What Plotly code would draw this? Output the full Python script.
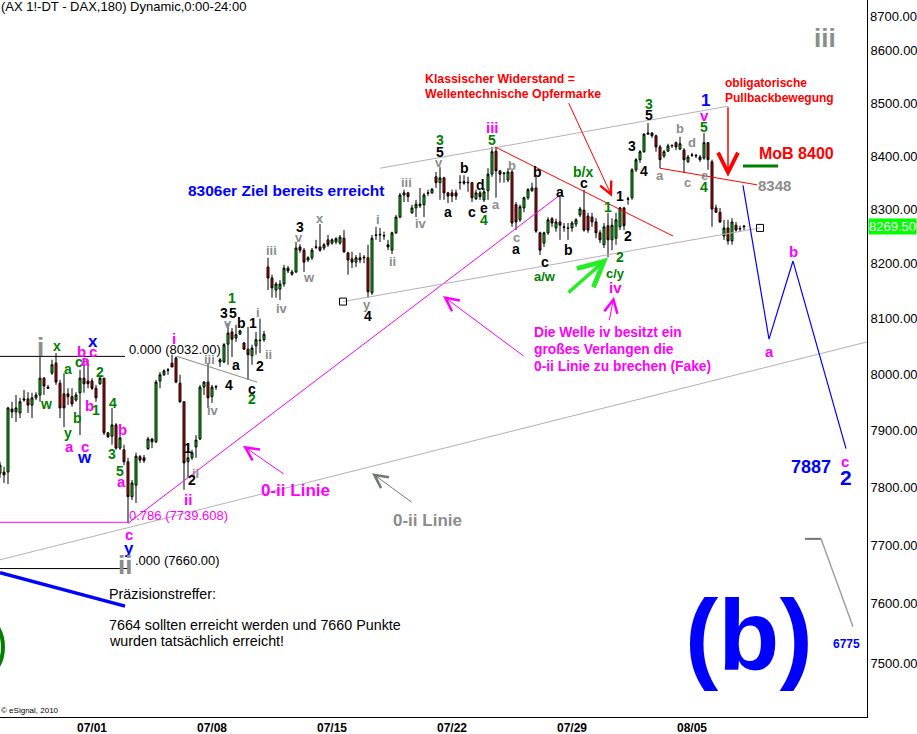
import math
import plotly.graph_objects as go

# ---------------- data (3-hour DAX future bars) ----------------
first_bar = -23  # bar index of the left-most (clipped) candle; 0 = first bar of 07/01
bar_open = [7825, 7827, 7827, 7938, 7933, 7931, 7954, 7956, 7945, 7958,
            7963, 7993, 7977, 8002, 8020, 7984, 7965, 7965, 7960, 7954,
            7967, 7993, 7988, 7988, 7975, 7983, 7993, 7896, 7890, 7910,
            7869, 7866, 7845, 7784, 7804, 7854, 7852, 7868, 7885, 7880,
            7988, 7999, 8008, 8020, 8029, 7984, 7951, 7845, 7852, 7871,
            7885, 7977, 7986, 7960, 7977, 8022, 8022, 8054, 8076, 8065,
            8072, 8056, 8045, 8033, 8051, 8060, 8062, 8194, 8174, 8152,
            8154, 8163, 8192, 8181, 8185, 8231, 8225, 8207, 8211, 8230,
            8231, 8229, 8244, 8238, 8240, 8238, 8247, 8220, 8209, 8203,
            8211, 8212, 8211, 8147, 8252, 8253, 8251, 8235, 8225, 8257,
            8286, 8327, 8331, 8294, 8303, 8307, 8309, 8330, 8331, 8361,
            8350, 8359, 8331, 8331, 8331, 8351, 8349, 8351, 8350, 8320,
            8331, 8318, 8335, 8366, 8409, 8372, 8368, 8355, 8370, 8309,
            8281, 8303, 8322, 8335, 8340, 8257, 8238, 8257, 8283, 8266,
            8277, 8268, 8266, 8266, 8273, 8290, 8299, 8288, 8286, 8277,
            8257, 8235, 8270, 8244, 8247, 8268, 8303, 8319, 8322, 8374,
            8393, 8408, 8441, 8443, 8438, 8417, 8400, 8409, 8419, 8425,
            8413, 8411, 8389, 8401, 8400, 8398, 8396, 8425, 8389, 8303,
            8295, 8251, 8266, 8242, 8271, 8264, 8268]
bar_high = [7845, 7836, 7942, 7951, 7963, 7958, 7972, 7968, 7967, 7968,
            8031, 7995, 7981, 8026, 8038, 7990, 8002, 7975, 7975, 7968,
            8008, 8029, 8026, 7993, 7981, 7997, 7993, 7897, 7940, 7913,
            7892, 7875, 7852, 7813, 7861, 7857, 7857, 7889, 7887, 7990,
            8004, 8009, 8011, 8035, 8032, 7999, 7951, 7875, 7866, 7892,
            7981, 7988, 8020, 7981, 7981, 8029, 8056, 8092, 8083, 8089,
            8080, 8058, 8085, 8053, 8076, 8100, 8078, 8211, 8180, 8167,
            8170, 8198, 8196, 8189, 8240, 8236, 8229, 8214, 8229, 8244,
            8273, 8238, 8253, 8247, 8249, 8253, 8262, 8222, 8222, 8216,
            8220, 8216, 8235, 8253, 8268, 8266, 8259, 8244, 8259, 8290,
            8331, 8337, 8333, 8309, 8318, 8340, 8331, 8337, 8340, 8370,
            8379, 8361, 8333, 8337, 8337, 8364, 8364, 8361, 8351, 8337,
            8335, 8340, 8377, 8417, 8415, 8374, 8370, 8377, 8374, 8314,
            8309, 8324, 8340, 8350, 8364, 8259, 8259, 8286, 8286, 8283,
            8327, 8275, 8275, 8279, 8284, 8305, 8337, 8294, 8294, 8284,
            8262, 8275, 8294, 8284, 8294, 8305, 8305, 8324, 8377, 8396,
            8411, 8443, 8462, 8445, 8440, 8421, 8411, 8423, 8421, 8427,
            8436, 8415, 8402, 8406, 8404, 8402, 8443, 8425, 8393, 8309,
            8303, 8281, 8281, 8284, 8277, 8270, 8270]
bar_low = [7817, 7808, 7806, 7922, 7915, 7922, 7951, 7931, 7922, 7954,
           7951, 7963, 7974, 7999, 7981, 7922, 7906, 7945, 7942, 7951,
           7892, 7967, 7975, 7972, 7951, 7981, 7892, 7887, 7875, 7866,
           7866, 7839, 7738, 7778, 7773, 7843, 7843, 7866, 7869, 7878,
           7975, 7997, 7999, 8013, 7984, 7949, 7796, 7817, 7848, 7852,
           7883, 7963, 7940, 7949, 7972, 8013, 8020, 8017, 8031, 8058,
           8071, 8044, 7990, 8017, 8035, 8038, 8058, 8152, 8138, 8138,
           8134, 8158, 8183, 8178, 8183, 8220, 8185, 8203, 8207, 8227,
           8222, 8225, 8231, 8235, 8236, 8235, 8220, 8180, 8192, 8194,
           8201, 8201, 8138, 8143, 8244, 8240, 8244, 8225, 8218, 8255,
           8284, 8314, 8314, 8292, 8286, 8303, 8286, 8325, 8329, 8340,
           8318, 8318, 8312, 8314, 8318, 8337, 8346, 8333, 8314, 8318,
           8318, 8314, 8318, 8361, 8322, 8350, 8350, 8351, 8268, 8262,
           8277, 8295, 8318, 8333, 8257, 8216, 8231, 8253, 8268, 8259,
           8244, 8259, 8244, 8259, 8268, 8286, 8259, 8257, 8268, 8247,
           8238, 8229, 8212, 8225, 8235, 8262, 8262, 8309, 8318, 8370,
           8387, 8406, 8440, 8434, 8408, 8377, 8396, 8408, 8415, 8411,
           8411, 8368, 8387, 8398, 8396, 8389, 8393, 8374, 8268, 8294,
           8275, 8244, 8235, 8235, 8259, 8259, 8262]
bar_close = [7839, 7822, 7940, 7933, 7940, 7951, 7956, 7945, 7958, 7963,
             7993, 7979, 7975, 8017, 7986, 7940, 7940, 7960, 7947, 7963,
             7993, 7983, 7983, 7975, 7958, 7993, 7896, 7889, 7910, 7869,
             7887, 7845, 7784, 7808, 7855, 7848, 7847, 7885, 7880, 7986,
             7999, 8006, 8007, 8013, 7986, 7951, 7843, 7852, 7861, 7883,
             7977, 7986, 7958, 7977, 7978, 8026, 8053, 8074, 8063, 8071,
             8078, 8045, 8035, 8047, 8062, 8061, 8072, 8174, 8156, 8163,
             8163, 8192, 8187, 8185, 8229, 8225, 8203, 8211, 8225, 8231,
             8225, 8235, 8235, 8244, 8246, 8249, 8222, 8207, 8203, 8211,
             8207, 8211, 8149, 8247, 8253, 8254, 8252, 8231, 8257, 8286,
             8327, 8331, 8324, 8303, 8310, 8310, 8327, 8331, 8338, 8350,
             8359, 8331, 8325, 8325, 8325, 8350, 8352, 8350, 8322, 8331,
             8324, 8333, 8366, 8408, 8372, 8366, 8367, 8370, 8275, 8277,
             8305, 8322, 8337, 8340, 8260, 8225, 8257, 8281, 8275, 8277,
             8271, 8267, 8265, 8275, 8281, 8301, 8262, 8262, 8277, 8257,
             8244, 8268, 8244, 8271, 8281, 8303, 8270, 8320, 8374, 8393,
             8408, 8441, 8443, 8438, 8417, 8393, 8408, 8419, 8420, 8417,
             8423, 8393, 8398, 8402, 8401, 8393, 8425, 8393, 8301, 8295,
             8277, 8266, 8242, 8277, 8262, 8265, 8269.5]
bar_x = list(range(first_bar, first_bar + len(bar_open)))

date_ticks = [0, 30, 60, 90, 120, 150]
date_labels = ["07/01", "07/08", "07/15", "07/22", "07/29", "08/05"]
price_ticks = [7500, 7600, 7700, 7800, 7900, 8000, 8100, 8200, 8300, 8400, 8500, 8600]
price_top_label = 8700
last_price = 8269.50

fib_high = 8032.00
fib_786 = 7739.608
fib_low = 7660.00

# drawn lines (bar index, price)
fib_high_x = [-23, 8.25]
fib_786_x = [-23, 8.75]
fib_low_x = [-23, 9.0]
fib_diag_x, fib_diag_y = [21.25, 41.25], [8032, 7986]
blue_thick_x, blue_thick_y = [-23, 8.25], [7653, 7596]
magenta_0ii_x, magenta_0ii_y = [9.0, 117.0], [7738, 8327]
gray_0ii_x, gray_0ii_y = [-23, 193.75], [7675, 8058]
upper_chan_x, upper_chan_y = [72.0, 159.0], [8377, 8494]
lower_chan_x, lower_chan_y = [62.75, 167.0], [8131, 8266]
resist_x, resist_y = [100.75, 145.25], [8417, 8251]
resist2_x, resist2_y = [142.0, 166.25], [8377, 8346]
mob_x, mob_y = [162.75, 171.5], [8381, 8381]
proj_x, proj_y = [162.75, 169.25, 175.25, 188.5], [8345, 8063, 8205, 7868]
target_h_x, target_h_y = [178.25, 182.25], [7711, 7711]
target_d_x, target_d_y = [182.25, 190.25], [7711, 7561]

GREEN = "#008000"
MAG = "#ff00ff"
BLUE = "#0000ff"
GRAY = "#8c8c8c"
BLACK = "#000000"
RED = "#ff0000"
PALE = "#b9aeb9"
COL = {"green": GREEN, "mag": MAG, "blue": BLUE, "gray": GRAY, "black": BLACK}

wave_labels = [
    (-13.0, 8049, "i", "gray", 26), (-8.75, 8051, "x", "green", 14),
    (-11.5, 7947, "w", "green", 14), (-6.0, 8009, "a", "green", 14),
    (-2.75, 8040, "b", "mag", 15), (0.25, 8040, "c", "mag", 15),
    (0.25, 8058, "x", "blue", 17), (-3.25, 8022, "c", "green", 14),
    (-1.75, 8024, "a", "mag", 15), (2.0, 8004, "2", "green", 14),
    (-0.75, 7945, "b", "mag", 15), (1.0, 7936, "1", "green", 14),
    (-3.75, 7922, "b", "green", 14), (-6.0, 7896, "y", "green", 14),
    (-5.75, 7871, "a", "mag", 15), (-1.75, 7871, "c", "mag", 15),
    (-2.0, 7852, "w", "blue", 17), (5.25, 7949, "4", "green", 14),
    (7.5, 7901, "b", "mag", 15), (5.0, 7859, "3", "green", 14),
    (7.0, 7829, "5", "green", 14), (7.25, 7810, "a", "mag", 15),
    (20.5, 8065, "i", "mag", 15), (29.25, 8026, "iii", "gray", 13),
    (30.25, 7936, "iv", "gray", 13), (24.0, 7869, "1", "black", 14),
    (25.75, 7825, "ii", "gray", 13), (25.0, 7813, "2", "black", 14),
    (24.0, 7780, "ii", "mag", 15), (34.25, 7981, "4", "black", 14),
    (33.0, 8110, "3", "black", 14), (35.25, 8110, "5", "black", 14),
    (35.0, 8138, "1", "green", 14), (34.0, 8092, "v", "gray", 13),
    (37.25, 8092, "b", "black", 14), (40.25, 8092, "1", "black", 14),
    (36.0, 8017, "a", "black", 14), (41.5, 8112, "i", "gray", 13),
    (44.0, 8036, "ii", "gray", 13), (42.0, 8015, "2", "black", 14),
    (40.0, 7974, "c", "black", 14), (40.0, 7956, "2", "green", 14),
    (44.75, 8225, "iii", "gray", 13), (47.5, 8119, "iv", "gray", 13),
    (54.25, 8174, "w", "gray", 13), (52.0, 8268, "3", "black", 14),
    (51.75, 8249, "v", "gray", 13), (57.0, 8283, "x", "gray", 13),
    (68.75, 8125, "y", "gray", 13), (69.0, 8105, "4", "black", 14),
    (71.5, 8281, "i", "gray", 13), (75.0, 8205, "ii", "gray", 13),
    (78.5, 8350, "iii", "gray", 13), (82.25, 8275, "iv", "gray", 13),
    (87.0, 8430, "3", "green", 14), (87.0, 8408, "5", "black", 14),
    (86.75, 8387, "v", "gray", 13), (89.0, 8295, "a", "black", 14),
    (93.0, 8377, "b", "black", 14), (95.0, 8295, "c", "black", 14),
    (97.0, 8346, "d", "black", 14), (98.0, 8303, "e", "black", 14),
    (98.0, 8281, "4", "green", 14), (101.0, 8309, "a", "gray", 13),
    (100.0, 8453, "iii", "mag", 15), (100.0, 8430, "5", "green", 14),
    (105.0, 8383, "b", "gray", 13), (106.0, 8249, "c", "gray", 13),
    (106.0, 8227, "a", "black", 14), (111.25, 8370, "b", "black", 14),
    (117.0, 8333, "a", "black", 14), (113.25, 8203, "c", "black", 14),
    (113.25, 8176, "a/w", "green", 13), (119.0, 8225, "b", "black", 14),
    (123.0, 8350, "c", "black", 14), (122.75, 8370, "b/x", "green", 14),
    (129.0, 8305, "1", "green", 14), (132.0, 8325, "1", "black", 14),
    (134.0, 8251, "2", "black", 14), (132.0, 8212, "2", "green", 14),
    (130.75, 8183, "c/y", "green", 13), (130.75, 8156, "iv", "mag", 15),
    (135.0, 8419, "3", "black", 14), (138.0, 8372, "4", "black", 14),
    (139.25, 8498, "3", "green", 14), (139.25, 8477, "5", "black", 14),
    (142.0, 8363, "a", "gray", 13), (147.0, 8451, "b", "gray", 13),
    (148.75, 8351, "c", "gray", 13), (150.0, 8425, "d", "gray", 13),
    (153.25, 8504, "1", "blue", 17), (153.0, 8477, "v", "mag", 15),
    (153.0, 8455, "5", "green", 14), (153.0, 8364, "e", "gray", 13),
    (153.0, 8342, "4", "green", 14), (169.25, 8040, "a", "mag", 15),
    (175.25, 8223, "b", "mag", 15), (188.25, 7845, "c", "mag", 15),
    (188.5, 7817, "2", "blue", 21), (9.25, 7718, "c", "mag", 15),
    (9.25, 7695, "y", "blue", 17), (8.25, 7666, "ii", "gray", 26),
    (183.25, 8624, "iii", "gray", 26),
]

value_labels = [
    (179.75, 7836, "7887", BLUE, 18),
    (188.5, 7532, "6775", BLUE, 12),
    (170.5, 8344, "8348", GRAY, 15),
    (176.0, 8404, "MoB 8400", RED, 16),
]

fig = go.Figure()
fig.add_trace(go.Candlestick(
    x=bar_x, open=bar_open, high=bar_high, low=bar_low, close=bar_close,
    increasing=dict(fillcolor="#00ee00", line=dict(color="black", width=1)),
    decreasing=dict(fillcolor="#ee0000", line=dict(color="black", width=1)),
    whiskerwidth=0, hoverinfo="skip"))


def seg(xs, ys, color, width=1.0):
    fig.add_trace(go.Scatter(x=xs, y=ys, mode="lines", hoverinfo="skip",
                             line=dict(color=color, width=width)))


seg(fib_high_x, [fib_high, fib_high], BLACK, 1)
seg(fib_786_x, [fib_786, fib_786], MAG, 1)
seg(fib_low_x, [fib_low, fib_low], BLACK, 1)
seg(fib_diag_x, fib_diag_y, "#7f8f7f", 1)
seg(blue_thick_x, blue_thick_y, BLUE, 3.5)
seg(magenta_0ii_x, magenta_0ii_y, MAG, 1)
seg(gray_0ii_x, gray_0ii_y, PALE, 1)
seg(upper_chan_x, upper_chan_y, PALE, 1)
seg(lower_chan_x, lower_chan_y, PALE, 1)
seg(resist_x, resist_y, RED, 1)
seg(resist2_x, resist2_y, RED, 1)
seg(mob_x, mob_y, GREEN, 3)
seg(proj_x, proj_y, BLUE, 1.2)
seg(target_h_x, target_h_y, "#707870", 2)
seg(target_d_x, target_d_y, "#a0a0a0", 1.5)
fig.add_trace(go.Scatter(x=lower_chan_x, y=lower_chan_y, mode="markers", hoverinfo="skip",
                         marker=dict(symbol="square-open", size=7, color="black",
                                     line=dict(width=1))))

ann = []
L10 = math.log10
for bx, pr, txt, c, sz in wave_labels:
    ann.append(dict(x=bx, y=L10(pr), xref="x", yref="y", text="<b>%s</b>" % txt,
                    showarrow=False, font=dict(color=COL[c], size=sz)))
for bx, pr, txt, c, sz in value_labels:
    ann.append(dict(x=bx, y=L10(pr), xref="x", yref="y", text="<b>%s</b>" % txt,
                    showarrow=False, font=dict(color=c, size=sz)))

fib_texts = [
    (8.75, 8045, "0.000 (8032.00)", BLACK),
    (8.75, 7752, "0.786 (7739.608)", MAG),
    (10.25, 7673, ".000 (7660.00)", BLACK),
]
for bx, pr, txt, c in fib_texts:
    ann.append(dict(x=bx, y=L10(pr), xref="x", yref="y", text=txt, xanchor="left",
                    showarrow=False, font=dict(color=c, size=13)))

# arrows: head (bar, price), tail offset in pixels
arrows = [
    (130.0, 8324, -44, -95, RED, 1, 2.4),
    (159.0, 8361, 0, -71, RED, 1.5, 2.6),
    (37.75, 7873, 42, 29, MAG, 1, 2.6),
    (87.75, 8141, 82, 61, MAG, 1, 2.6),
    (130.5, 8140, -5, 25, MAG, 1, 2.6),
    (70.0, 7825, 41, 30, "#6f786f", 1, 2.6),
    (129.0, 8211, -41, 36, "#22ee22", 3.5, 1.4),
]
for bx, pr, ax, ay, c, w, s in arrows:
    ann.append(dict(x=bx, y=L10(pr), xref="x", yref="y", text="", showarrow=True,
                    ax=ax, ay=ay, arrowcolor=c, arrowwidth=w, arrowsize=s, arrowhead=5))

PW, PH = 867.0, 717.0


def ptext(px, py, txt, color, size, bold=False, anchor="left"):
    ann.append(dict(x=px / PW, y=1 - py / PH, xref="paper", yref="paper",
                    text=("<b>%s</b>" % txt) if bold else txt, xanchor=anchor,
                    yanchor="middle", showarrow=False, font=dict(color=color, size=size)))


ptext(-1, 7, "(AX 1!-DT - DAX,180) Dynamic,0:00-24:00", BLACK, 13)
ptext(286, 191, "8306er Ziel bereits erreicht", BLUE, 15.5, True, "center")
ptext(423, 79, "Klassischer Widerstand =", RED, 12.3, True)
ptext(423, 94, "Wellentechnische Opfermarke", RED, 12.3, True)
ptext(723, 83, "obligatorische", RED, 12, True)
ptext(723, 98, "Pullbackbewegung", RED, 12, True)
ptext(532, 332, "Die Welle iv besitzt ein", MAG, 13.8, True)
ptext(532, 349, "großes Verlangen die", MAG, 13.8, True)
ptext(532, 366, "0-ii Linie zu brechen (Fake)", MAG, 13.8, True)
ptext(259, 490, "0-ii Linie", MAG, 17, True)
ptext(391, 520, "0-ii Linie", GRAY, 17, True)
ptext(107, 594, "Präzisionstreffer:", BLACK, 14.3)
ptext(107, 625, "7664 sollten erreicht werden und 7660 Punkte", BLACK, 14.3)
ptext(107, 641, "wurden tatsächlich erreicht!", BLACK, 14.3)
ptext(-1, 710, "© eSignal, 2010", BLACK, 8)
ptext(749, 635, "(b)", BLUE, 100, True, "center")

# right-axis extras
ann.append(dict(x=1.0, y=1 - 7 / PH, xref="paper", yref="paper", xanchor="left",
                xshift=1, text="%.2f" % price_top_label, showarrow=False,
                font=dict(color=BLACK, size=13)))
ann.append(dict(x=1.0, y=L10(last_price), xref="paper", yref="y", xanchor="left",
                xshift=1, text="%.2f" % last_price, showarrow=False, bgcolor="#00ff00",
                borderpad=0, font=dict(color="white", size=13)))

shapes = [dict(type="circle", xref="paper", yref="paper",
               x0=-77 / PW, x1=3 / PW, y0=1 - 687 / PH, y1=1 - 607 / PH,
               line=dict(color=GREEN, width=4))]

fig.update_layout(
    width=917, height=734, margin=dict(l=0, r=50, t=0, b=17),
    plot_bgcolor="white", paper_bgcolor="white", showlegend=False,
    font=dict(family="Arial, Liberation Sans, sans-serif", color="black"),
    annotations=ann, shapes=shapes,
)
fig.update_xaxes(range=[-23, 193.75], tickvals=date_ticks,
                 ticktext=["<b>%s</b>" % d for d in date_labels],
                 tickfont=dict(size=12, color="black"), ticks="",
                 showgrid=False, zeroline=False, showline=True, linecolor="black",
                 linewidth=1, rangeslider=dict(visible=False), fixedrange=True)
fig.update_yaxes(type="log", range=[math.log10(7410), math.log10(8698)], side="right",
                 tickvals=price_ticks, ticktext=["%.2f" % v for v in price_ticks],
                 tickfont=dict(size=13, color="black"), ticks="",
                 showgrid=False, zeroline=False, showline=True, linecolor="black",
                 linewidth=1, fixedrange=True)

fig.write_html("out.html", config={"displayModeBar": False},
               post_script="document.body.style.margin='0';document.body.style.overflow='hidden';")
